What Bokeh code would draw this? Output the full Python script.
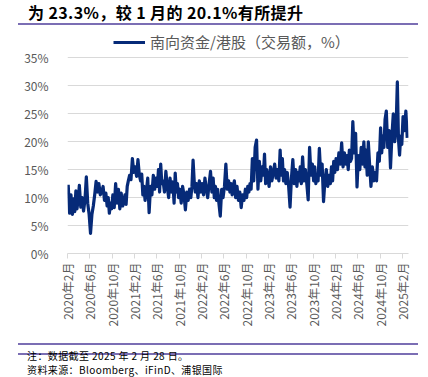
import numpy as np
from bokeh.plotting import figure
from bokeh.models import (ColumnDataSource, FixedTicker, PrintfTickFormatter, Legend,
                          LegendItem, Div, Range1d)
from bokeh.layouts import column
from bokeh.embed import file_html
from bokeh.resources import INLINE

# Southbound turnover / HK market turnover (%), grouped by month (several readings per month)
v2020 = [  # Feb .. Dec 2020
    [12.3, 7.2, 10.5, 7.0],
    [9.8, 7.5, 11.2, 8.0, 9.5],
    [12.2, 8.3, 10.0, 7.6],
    [9.5, 13.7, 9.0, 7.0],
    [3.6, 7.0, 8.5, 10.5],
    [12.9, 11.0, 12.5, 10.5],
    [11.0, 12.0, 9.5, 10.8],
    [8.5, 10.0, 7.2, 9.0, 8.0],
    [10.5, 8.2, 12.5, 9.0],
    [11.5, 8.0, 10.8, 8.5],
    [9.0, 10.5, 8.8, 12.0, 13.0],
]
v2021 = [
    [14.0, 13.2, 17.0, 14.5],
    [15.5, 13.8, 16.8, 14.0],
    [13.0, 14.2, 10.5, 12.0, 9.5],
    [11.0, 13.5, 7.3, 12.0],
    [10.5, 14.0, 11.5, 13.5],
    [12.0, 15.0, 11.0, 16.0, 12.5],
    [13.0, 11.0, 14.7, 12.0],
    [10.0, 13.5, 11.0, 12.8],
    [9.0, 14.4, 11.0, 12.5, 10.0],
    [11.5, 9.0, 12.0, 10.5],
    [7.8, 11.0, 9.5, 11.5],
    [10.0, 12.0, 16.7, 13.0, 11.0],
]
v2022 = [
    [12.5, 10.0, 13.0, 11.0],
    [12.5, 10.5, 13.5, 11.5],
    [10.0, 12.5, 14.7, 11.0],
    [13.5, 10.0, 12.0, 9.5, 11.5],
    [9.0, 6.7, 11.5, 10.0],
    [12.0, 16.0, 11.5, 13.0],
    [11.0, 12.5, 10.5, 12.0, 13.0],
    [10.0, 12.0, 9.5, 11.0],
    [8.2, 10.5, 9.5, 11.5],
    [10.0, 12.0, 11.0, 12.5, 11.5],
    [17.0, 13.0, 19.0, 20.3],
    [11.5, 16.5, 13.0, 15.5],
]
v2023 = [
    [14.0, 17.8, 12.5, 15.0, 13.5],
    [12.0, 15.5, 13.0, 14.5],
    [16.0, 13.5, 15.0, 13.0],
    [18.5, 14.0, 17.0, 13.0, 15.0],
    [12.5, 14.5, 12.0, 8.3],
    [13.5, 16.8, 12.5, 15.0],
    [12.0, 14.5, 13.0, 15.5, 12.5],
    [17.3, 13.0, 15.0, 12.5],
    [9.6, 19.0, 14.0, 16.0],
    [13.0, 15.5, 12.5, 14.0, 13.0],
    [18.8, 14.0, 16.0, 9.3],
    [13.0, 15.0, 12.0, 14.0],
]
v2024 = [
    [12.5, 15.5, 13.0, 16.5, 14.5],
    [17.0, 15.0, 18.0, 16.0],
    [19.8, 15.5, 18.0, 16.0],
    [17.5, 15.0, 18.5, 16.5, 17.0],
    [23.6, 18.0, 21.5, 11.9],
    [17.5, 15.0, 19.0, 16.0],
    [20.0, 15.5, 18.5, 14.0, 20.0],
    [16.0, 12.0, 15.5, 13.0],
    [14.5, 13.0, 18.0, 16.5],
    [22.5, 18.0, 21.0, 19.0, 24.0],
    [25.5, 19.0, 22.0, 15.3],
    [21.0, 25.0, 20.0, 22.5],
]
v2025 = [
    [30.7, 20.5, 17.6, 21.0, 19.5],
    [24.5, 22.0, 25.5, 20.7],
]

tick_labels = ["2020年2月", "2020年6月", "2020年10月", "2021年2月", "2021年6月", "2021年10月",
               "2022年2月", "2022年6月", "2022年10月", "2023年2月", "2023年6月", "2023年10月",
               "2024年2月", "2024年6月", "2024年10月", "2025年2月"]
y_ticks = [0, 5, 10, 15, 20, 25, 30, 35]

months = v2020 + v2021 + v2022 + v2023 + v2024 + v2025
xs, ys = [], []
for i, mvals in enumerate(months):
    k = len(mvals)
    for j, v in enumerate(mvals):
        xs.append(i + (j + 0.5) / k)
        ys.append(v)
src = ColumnDataSource(dict(x=xs, y=ys))

FONT = "Noto Sans CJK SC"
GRAY = "#595959"
PURPLE = "#7b6eb4"

p = figure(width=420, height=318, output_backend="svg", toolbar_location=None, title=None,
           x_range=Range1d(0, 61.1), y_range=Range1d(0, 40.44),
           min_border_left=67, min_border_right=12, min_border_top=2, min_border_bottom=90,
           margin=0)
p.outline_line_color = None
p.background_fill_color = "white"
p.border_fill_color = "white"

r = p.line("x", "y", source=src, line_color="#062a78", line_width=3.2, line_join="round")

# y axis
p.yaxis.ticker = FixedTicker(ticks=y_ticks)
p.yaxis.formatter = PrintfTickFormatter(format="%d%%")
p.yaxis.axis_line_color = None
p.yaxis.major_tick_line_color = None
p.yaxis.minor_tick_line_color = None
p.yaxis.major_label_standoff = 13
p.yaxis.major_label_text_font = FONT
p.yaxis.major_label_text_font_size = "12px"
p.yaxis.major_label_text_color = GRAY
p.ygrid.ticker = FixedTicker(ticks=y_ticks)
p.ygrid.grid_line_color = "#d9d9d9"
p.ygrid.grid_line_width = 1
p.xgrid.grid_line_color = None

# x axis
xt = list(range(0, 61, 4))
p.xaxis.ticker = FixedTicker(ticks=xt)
p.xaxis.major_label_overrides = {t: lab for t, lab in zip(xt, tick_labels)}
p.xaxis.major_label_orientation = np.pi / 2
p.xaxis.axis_line_color = "#d9d9d9"
p.xaxis.major_tick_line_color = "#d9d9d9"
p.xaxis.major_tick_in = 0
p.xaxis.major_tick_out = 5
p.xaxis.minor_tick_line_color = None
p.xaxis.major_label_standoff = 4
p.xaxis.major_label_text_font = FONT
p.xaxis.major_label_text_font_size = "12px"
p.xaxis.major_label_text_color = GRAY

legend = Legend(items=[LegendItem(label="南向资金/港股（交易额，%）", renderers=[r])],
                location=(46, 201), padding=0, spacing=0, margin=0,
                glyph_width=32, glyph_height=16, label_height=16, label_standoff=5,
                border_line_alpha=0, background_fill_alpha=0,
                label_text_font=FONT, label_text_font_size="15px", label_text_color=GRAY)
p.add_layout(legend)

# title with purple rule underneath (rule drawn as the host's bottom border)
title = Div(width=400, height=19, margin=(4, 0, 0, 18),
            styles={"border-bottom": f"2px solid {PURPLE}", "box-sizing": "content-box",
                    "line-height": "16px"},
            text=(f'<span style="display:inline-block;margin-left:10px;font-family:\'{FONT}\';'
                  'font-weight:bold;font-size:16px;line-height:16px;letter-spacing:0.4px;'
                  'color:#000;white-space:nowrap;">为 23.3%，较 1 月的 20.1%有所提升</span>'))

rule = Div(width=400, height=2, margin=(0, 0, 0, 18),
           styles={"background-color": PURPLE},
           text=f'<div style="width:400px;height:2px;background:{PURPLE};"></div>')

note = Div(width=390, height=11, margin=(5, 0, 0, 27), text=(
    f'<span style="font-family:\'{FONT}\';font-size:10px;line-height:11px;letter-spacing:0.4px;'
    'color:#000;white-space:nowrap;">注：数据截至 2025 年 2 月 28 日。</span>'),
    styles={"line-height": "11px"})
source = Div(width=390, height=11, margin=(3, 0, 0, 27), text=(
    f'<span style="font-family:\'{FONT}\';font-size:10px;line-height:11px;letter-spacing:0.4px;'
    'color:#000;white-space:nowrap;">资料来源：Bloomberg、iFinD、浦银国际</span>'),
    styles={"line-height": "11px"})

layout = column(title, p, rule, note, source, spacing=0)
open("out.html", "w").write(file_html(layout, INLINE))
